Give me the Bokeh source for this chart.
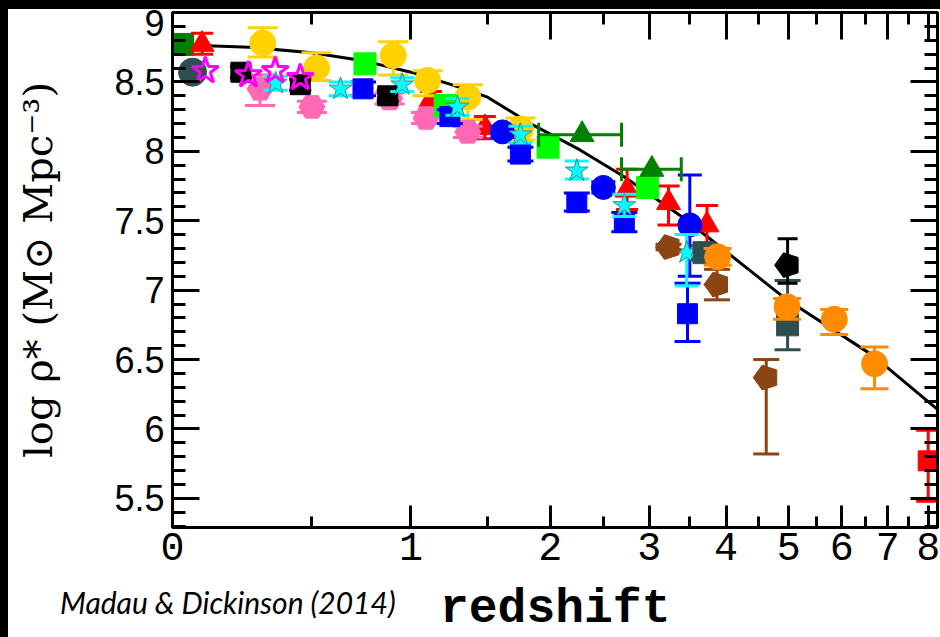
import numpy as np
from bokeh.plotting import figure
from bokeh.models import (FixedTicker, LinearAxis, Range1d, Spacer, Div,
                          CustomJSTickFormatter)
from bokeh.layouts import column, row
from bokeh.embed import file_html
from bokeh.resources import INLINE

# ---------------- ticks ----------------
x_tick_z = [0, 1, 2, 3, 4, 5, 6, 7, 8]
x_tick_labels = ["0", "1", "2", "3", "4", "5", "6", "7", "8"]
x_minor_z = [0.5, 1.5, 2.5, 3.5, 4.5, 5.5, 6.5, 7.5]
y_ticks = [5.5, 6.0, 6.5, 7.0, 7.5, 8.0, 8.5, 9.0]
y_tick_labels = ["5.5", "6", "6.5", "7", "7.5", "8", "8.5", "9"]
y_minor = [round(5.3 + 0.1 * i, 1) for i in range(38)]

# ---------------- fit curve ----------------
curve_z = [0.0, 0.25, 0.5, 0.75, 1.0, 1.25, 1.5, 1.85, 2.27, 2.71, 3.37, 3.77, 4.97, 6.66, 8.03, 8.3]
curve_y = [8.77, 8.75, 8.71, 8.65, 8.57, 8.48, 8.39, 8.19, 8.01, 7.82, 7.54, 7.37, 6.93, 6.53, 6.19, 6.13]

# ---------------- data sets ----------------
dkgreen_sq_z = [0.03]
dkgreen_sq_y = [8.77]
dkgreen_sq_lo = [8.72]
dkgreen_sq_hi = [8.83]

dkgreen_tri_z = [2.29, 3.03]
dkgreen_tri_y = [8.12, 7.87]
dkgreen_tri_zlo = [1.90, 2.69]
dkgreen_tri_zhi = [2.69, 3.39]

lime_z = [0.75, 1.21, 1.98, 2.98]
lime_y = [8.63, 8.33, 8.03, 7.74]

red_tri_z = [0.09, 1.12, 1.48, 2.75, 3.23, 3.73]
red_tri_y = [8.77, 8.37, 8.17, 7.72, 7.63, 7.47]
red_tri_lo = [8.70, 8.30, 8.09, 7.58, 7.47, 7.33]
red_tri_hi = [8.85, 8.43, 8.25, 7.87, 7.75, 7.61]

red_sq_z = [8.0]
red_sq_y = [5.77]
red_sq_lo = [5.48]
red_sq_hi = [5.99]

gold_z = [0.30, 0.52, 0.90, 1.10, 1.36, 1.75]
gold_y = [8.78, 8.60, 8.69, 8.51, 8.39, 8.16]
gold_lo = [8.68, 8.51, 8.55, 8.40, 8.23, 8.08]
gold_hi = [8.89, 8.71, 8.79, 8.58, 8.48, 8.24]

pink_z = [0.29, 0.50, 0.88, 1.09, 1.36]
pink_y = [8.45, 8.32, 8.38, 8.24, 8.14]
pink_lo = [8.33, 8.28, 8.34, 8.20, 8.10]
pink_hi = [8.55, 8.36, 8.42, 8.28, 8.18]

cyan_z = [0.35, 0.63, 0.95, 1.29, 1.75, 2.24, 2.72, 3.46]
cyan_y = [8.49, 8.45, 8.48, 8.32, 8.12, 7.86, 7.61, 7.27]
cyan_lo = [8.44, 8.40, 8.43, 8.26, 8.06, 7.80, 7.53, 7.03]
cyan_hi = [8.54, 8.50, 8.53, 8.38, 8.18, 7.93, 7.69, 7.40]

blue_sq_z = [0.74, 1.24, 1.75, 2.24, 2.72, 3.47]
blue_sq_y = [8.45, 8.25, 7.98, 7.63, 7.49, 6.83]
blue_sq_lo = [8.40, 8.20, 7.93, 7.57, 7.42, 6.63]
blue_sq_hi = [8.50, 8.30, 8.03, 7.70, 7.56, 7.05]

blue_circ_z = [1.61, 2.50, 3.50]
blue_circ_y = [8.14, 7.74, 7.47]
blue_circ_lo = [8.10, 7.70, 7.10]
blue_circ_hi = [8.18, 7.78, 7.83]

black_sq_z = [0.22, 0.45, 0.87]
black_sq_y = [8.57, 8.48, 8.40]
black_sq_lo = [8.53, 8.44, 8.36]
black_sq_hi = [8.61, 8.52, 8.44]

black_pent_z = [4.98]
black_pent_y = [7.18]
black_pent_lo = [7.05]
black_pent_hi = [7.37]

brown_z = [3.23, 3.87, 4.62]
brown_y = [7.31, 7.04, 6.37]
brown_lo = [7.29, 6.93, 5.82]
brown_hi = [7.33, 7.15, 6.50]

slate_sq_z = [3.69, 4.98]
slate_sq_y = [7.27, 6.75]
slate_sq_lo = [7.22, 6.57]
slate_sq_hi = [7.32, 7.07]

slate_circ_z = [0.06]
slate_circ_y = [8.57]

orange_z = [3.88, 4.97, 5.85, 6.70]
orange_y = [7.24, 6.88, 6.79, 6.47]
orange_lo = [7.18, 6.79, 6.68, 6.29]
orange_hi = [7.30, 6.94, 6.86, 6.59]

magenta_z = [0.10, 0.247, 0.348, 0.45]
magenta_y = [8.58, 8.55, 8.58, 8.53]

# colours
C_DKGREEN = "#008000"
C_LIME = "#00FF00"
C_RED = "#FF0000"
C_GOLD = "#FFD200"
C_PINK = "#FF69B4"
C_CYAN = "#00FFFF"
C_BLUE = "#0000FF"
C_BROWN = "#8B4513"
C_SLATE = "#2F4F4F"
C_ORANGE = "#FF8C00"
C_MAGENTA = "#FF00FF"


def lz(z):
    """redshift -> log10(1+z) axis coordinate"""
    return np.log10(1.0 + np.asarray(z, dtype=float))


p = figure(width=932, height=570, output_backend="svg", toolbar_location=None,
           x_range=Range1d(0, 0.966), y_range=Range1d(5.29, 9.0),
           min_border_left=164, min_border_right=3, min_border_top=3,
           min_border_bottom=52)
p.background_fill_color = "white"
p.border_fill_color = "white"
p.outline_line_color = "black"
p.outline_line_width = 3
p.xgrid.visible = False
p.ygrid.visible = False

xt = [float(v) for v in lz(x_tick_z)]
xm = [float(v) for v in lz(x_minor_z)]
xticker = FixedTicker(ticks=xt, minor_ticks=xm)
yticker = FixedTicker(ticks=y_ticks, minor_ticks=y_minor)

fmt_code = """
let best = -1, d = 1e9;
for (let i = 0; i < tk.length; i++) {
  const e = Math.abs(tk[i] - tick);
  if (e < d) { d = e; best = i; }
}
return d < 1e-6 ? labs[best] : "";
"""

ax = p.xaxis[0]
ax.ticker = xticker
ax.formatter = CustomJSTickFormatter(args=dict(tk=xt, labs=x_tick_labels), code=fmt_code)
ay = p.yaxis[0]
ay.ticker = yticker
ay.formatter = CustomJSTickFormatter(args=dict(tk=y_ticks, labs=y_tick_labels), code=fmt_code)

for a, maj, mnr in ((ax, 22, 11), (ay, 27, 13)):
    a.major_tick_in = maj
    a.major_tick_out = 0
    a.minor_tick_in = mnr
    a.minor_tick_out = 0
    a.major_tick_line_width = 3
    a.minor_tick_line_width = 3
    a.axis_line_width = 3
    a.major_tick_line_color = "black"
    a.minor_tick_line_color = "black"
    a.axis_line_color = "black"

ax.major_label_text_font = "Liberation Mono"
ax.major_label_text_font_size = "40px"
ax.major_label_text_color = "black"
ax.major_label_standoff = 5

ay.major_label_text_font = "Liberation Sans"
ay.major_label_text_font_size = "36px"
ay.major_label_text_color = "black"
ay.major_label_standoff = 8
ay.axis_label = "log \u03c1* (M\u2299 Mpc\u207b\u00b3)"
ay.axis_label_text_font = "DejaVu Serif"
ay.axis_label_text_font_style = "normal"
ay.axis_label_text_font_size = "40px"
ay.axis_label_text_color = "black"
ay.axis_label_standoff = 50

# mirrored axes (ticks only, no labels)
blank = CustomJSTickFormatter(code="return '';")
top = LinearAxis(ticker=xticker, formatter=blank, major_label_text_font_size="1px",
                 major_label_standoff=0,
                 major_tick_in=27, major_tick_out=0, minor_tick_in=12, minor_tick_out=0,
                 major_tick_line_width=3, minor_tick_line_width=3, axis_line_width=3)
p.add_layout(top, "above")
right = LinearAxis(ticker=yticker, formatter=blank, major_label_text_font_size="1px",
                   major_label_standoff=0,
                   major_tick_in=27, major_tick_out=0, minor_tick_in=13, minor_tick_out=0,
                   major_tick_line_width=3, minor_tick_line_width=3, axis_line_width=3)
p.add_layout(right, "right")


def vbars(z, lo, hi, color, cap=22, lw=3):
    x = lz(z)
    p.segment(x0=x, y0=lo, x1=x, y1=hi, line_color=color, line_width=lw)
    p.scatter(x=np.r_[x, x], y=np.r_[lo, hi], marker="dash", size=cap,
              line_color=color, line_width=lw)


def pts(z, y, color, marker, size):
    p.scatter(x=lz(z), y=y, marker=marker, size=size, fill_color=color, line_color=color)


def pentagons(z, y, color):
    if hasattr(p, "ngon"):
        p.ngon(x=lz(z), y=y, radius=13, radius_units="screen", n=5, angle=np.pi / 10,
               fill_color=color, line_color=color)
    else:
        pts(z, y, color, "hex", 24)


# fit curve
p.line(lz(curve_z), curve_y, line_color="black", line_width=3)

# dark green square (z~0)
vbars(dkgreen_sq_z, dkgreen_sq_lo, dkgreen_sq_hi, C_DKGREEN)
pts(dkgreen_sq_z, dkgreen_sq_y, C_DKGREEN, "square", 22)

# slate circle
pts(slate_circ_z, slate_circ_y, C_SLATE, "circle", 28)

# red triangles
vbars(red_tri_z, red_tri_lo, red_tri_hi, C_RED)
pts(red_tri_z, red_tri_y, C_RED, "triangle", 24)

# gold circles
vbars(gold_z, gold_lo, gold_hi, C_GOLD, cap=30)
pts(gold_z, gold_y, C_GOLD, "circle", 26)

# pink hexagons
vbars(pink_z, pink_lo, pink_hi, C_PINK, cap=30)
pts(pink_z, pink_y, C_PINK, "hex", 26)

# black squares
vbars(black_sq_z, black_sq_lo, black_sq_hi, "black")
pts(black_sq_z, black_sq_y, "black", "square", 20)

# lime squares
pts(lime_z, lime_y, C_LIME, "square", 22)

# blue squares / circles
vbars(blue_sq_z, blue_sq_lo, blue_sq_hi, C_BLUE, cap=26)
pts(blue_sq_z, blue_sq_y, C_BLUE, "square", 20)
vbars(blue_circ_z, blue_circ_lo, blue_circ_hi, C_BLUE, cap=24)
pts(blue_circ_z, blue_circ_y, C_BLUE, "circle", 24)

# cyan
vbars(cyan_z, cyan_lo, cyan_hi, C_CYAN, cap=24)
p.scatter(x=lz(cyan_z), y=cyan_y, marker="star", size=24, fill_color=C_CYAN,
          line_color="#3a8a8a", line_width=1)

# dark green triangles with horizontal bars
xg, yg = lz(dkgreen_tri_z), np.asarray(dkgreen_tri_y)
p.segment(x0=lz(dkgreen_tri_zlo), y0=yg, x1=lz(dkgreen_tri_zhi), y1=yg,
          line_color=C_DKGREEN, line_width=3)
p.scatter(x=np.r_[lz(dkgreen_tri_zlo), lz(dkgreen_tri_zhi)], y=np.r_[yg, yg], marker="dash",
          angle=np.pi / 2, size=24, line_color=C_DKGREEN, line_width=3)
pts(dkgreen_tri_z, dkgreen_tri_y, C_DKGREEN, "triangle", 24)

# brown pentagons
vbars(brown_z, brown_lo, brown_hi, C_BROWN, cap=26)
pentagons(brown_z, brown_y, C_BROWN)

# slate squares
vbars(slate_sq_z, slate_sq_lo, slate_sq_hi, C_SLATE, cap=26)
pts(slate_sq_z, slate_sq_y, C_SLATE, "square", 22)

# black pentagon
vbars(black_pent_z, black_pent_lo, black_pent_hi, "black", cap=20)
pentagons(black_pent_z, black_pent_y, "black")

# orange circles
vbars(orange_z, orange_lo, orange_hi, C_ORANGE, cap=28)
pts(orange_z, orange_y, C_ORANGE, "circle", 26)

# red square (z~8)
vbars(red_sq_z, red_sq_lo, red_sq_hi, C_RED, cap=24)
pts(red_sq_z, red_sq_y, C_RED, "square", 20)

# magenta open stars
p.scatter(x=lz(magenta_z), y=magenta_y, marker="star", size=28, fill_alpha=0,
          line_color=C_MAGENTA, line_width=3)

# bottom text row: citation + x-axis title
bottom_html = (
    '<div style="position:relative;width:932px;height:58px;margin:0;padding:0;">'
    '<span style="position:absolute;left:52px;top:8px;font-family:Lato;font-style:italic;'
    'font-size:30px;line-height:30px;color:black;white-space:nowrap;">'
    'Madau &amp; Dickinson (2014)</span>'
    '<span style="position:absolute;left:432px;top:6px;font-family:\'Liberation Mono\';'
    'font-weight:bold;font-size:48px;line-height:48px;color:black;white-space:nowrap;">'
    'redshift</span>'
    '</div>'
)
bottom = Div(text=bottom_html, width=932, height=58, margin=0)

top_bar = Spacer(width=940, height=9, styles={"background-color": "black"})
left_bar = Spacer(width=8, height=628, styles={"background-color": "black"})
layout = column(top_bar, row(left_bar, column(p, bottom, spacing=0), spacing=0), spacing=0)

open("out.html", "w").write(file_html(layout, INLINE))
